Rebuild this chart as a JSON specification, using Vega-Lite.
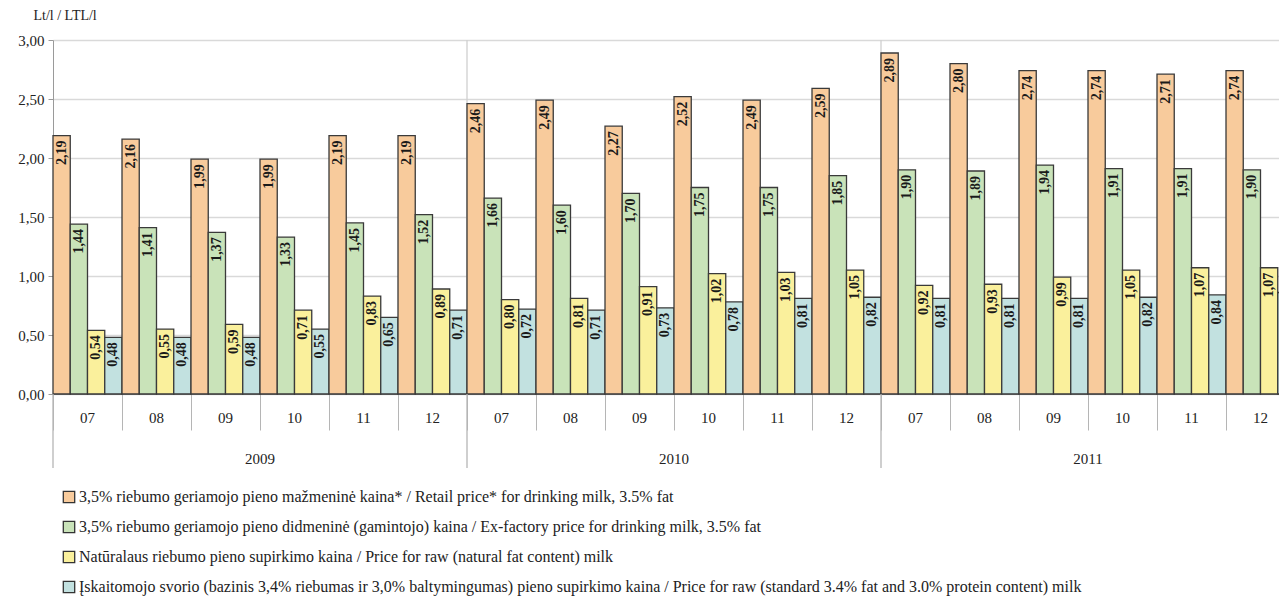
{
  "$schema": "https://vega.github.io/schema/vega-lite/v6.json",
  "width": 1226,
  "height": 354,
  "autosize": {"type": "none"},
  "padding": {"left": 53, "top": 40, "right": 0, "bottom": 209},
  "background": "white",
  "config": {
    "locale": {"number": {"decimal": ",", "thousands": " ", "grouping": [3], "currency": ["", ""]}},
    "font": "Liberation Serif",
    "view": {"stroke": null},
    "axis": {"labelFont": "Liberation Serif", "titleFont": "Liberation Serif", "labelColor": "#222", "titleColor": "#222"},
    "legend": {"labelFont": "Liberation Serif", "titleFont": "Liberation Serif"}
  },
  "data": {"values": [
    {"p":"2009-07","yr":"2009","m":"07","s":"3,5% riebumo geriamojo pieno mažmeninė kaina* / Retail price* for drinking milk, 3.5% fat","v":2.19},
    {"p":"2009-07","yr":"2009","m":"07","s":"3,5% riebumo geriamojo pieno didmeninė (gamintojo) kaina / Ex-factory price for drinking milk, 3.5% fat","v":1.44},
    {"p":"2009-07","yr":"2009","m":"07","s":"Natūralaus riebumo pieno supirkimo kaina / Price for raw (natural fat content) milk","v":0.54},
    {"p":"2009-07","yr":"2009","m":"07","s":"Įskaitomojo svorio (bazinis 3,4% riebumas ir 3,0% baltymingumas) pieno supirkimo kaina / Price for raw (standard 3.4% fat and 3.0% protein content) milk","v":0.48},
    {"p":"2009-08","yr":"2009","m":"08","s":"3,5% riebumo geriamojo pieno mažmeninė kaina* / Retail price* for drinking milk, 3.5% fat","v":2.16},
    {"p":"2009-08","yr":"2009","m":"08","s":"3,5% riebumo geriamojo pieno didmeninė (gamintojo) kaina / Ex-factory price for drinking milk, 3.5% fat","v":1.41},
    {"p":"2009-08","yr":"2009","m":"08","s":"Natūralaus riebumo pieno supirkimo kaina / Price for raw (natural fat content) milk","v":0.55},
    {"p":"2009-08","yr":"2009","m":"08","s":"Įskaitomojo svorio (bazinis 3,4% riebumas ir 3,0% baltymingumas) pieno supirkimo kaina / Price for raw (standard 3.4% fat and 3.0% protein content) milk","v":0.48},
    {"p":"2009-09","yr":"2009","m":"09","s":"3,5% riebumo geriamojo pieno mažmeninė kaina* / Retail price* for drinking milk, 3.5% fat","v":1.99},
    {"p":"2009-09","yr":"2009","m":"09","s":"3,5% riebumo geriamojo pieno didmeninė (gamintojo) kaina / Ex-factory price for drinking milk, 3.5% fat","v":1.37},
    {"p":"2009-09","yr":"2009","m":"09","s":"Natūralaus riebumo pieno supirkimo kaina / Price for raw (natural fat content) milk","v":0.59},
    {"p":"2009-09","yr":"2009","m":"09","s":"Įskaitomojo svorio (bazinis 3,4% riebumas ir 3,0% baltymingumas) pieno supirkimo kaina / Price for raw (standard 3.4% fat and 3.0% protein content) milk","v":0.48},
    {"p":"2009-10","yr":"2009","m":"10","s":"3,5% riebumo geriamojo pieno mažmeninė kaina* / Retail price* for drinking milk, 3.5% fat","v":1.99},
    {"p":"2009-10","yr":"2009","m":"10","s":"3,5% riebumo geriamojo pieno didmeninė (gamintojo) kaina / Ex-factory price for drinking milk, 3.5% fat","v":1.33},
    {"p":"2009-10","yr":"2009","m":"10","s":"Natūralaus riebumo pieno supirkimo kaina / Price for raw (natural fat content) milk","v":0.71},
    {"p":"2009-10","yr":"2009","m":"10","s":"Įskaitomojo svorio (bazinis 3,4% riebumas ir 3,0% baltymingumas) pieno supirkimo kaina / Price for raw (standard 3.4% fat and 3.0% protein content) milk","v":0.55},
    {"p":"2009-11","yr":"2009","m":"11","s":"3,5% riebumo geriamojo pieno mažmeninė kaina* / Retail price* for drinking milk, 3.5% fat","v":2.19},
    {"p":"2009-11","yr":"2009","m":"11","s":"3,5% riebumo geriamojo pieno didmeninė (gamintojo) kaina / Ex-factory price for drinking milk, 3.5% fat","v":1.45},
    {"p":"2009-11","yr":"2009","m":"11","s":"Natūralaus riebumo pieno supirkimo kaina / Price for raw (natural fat content) milk","v":0.83},
    {"p":"2009-11","yr":"2009","m":"11","s":"Įskaitomojo svorio (bazinis 3,4% riebumas ir 3,0% baltymingumas) pieno supirkimo kaina / Price for raw (standard 3.4% fat and 3.0% protein content) milk","v":0.65},
    {"p":"2009-12","yr":"2009","m":"12","s":"3,5% riebumo geriamojo pieno mažmeninė kaina* / Retail price* for drinking milk, 3.5% fat","v":2.19},
    {"p":"2009-12","yr":"2009","m":"12","s":"3,5% riebumo geriamojo pieno didmeninė (gamintojo) kaina / Ex-factory price for drinking milk, 3.5% fat","v":1.52},
    {"p":"2009-12","yr":"2009","m":"12","s":"Natūralaus riebumo pieno supirkimo kaina / Price for raw (natural fat content) milk","v":0.89},
    {"p":"2009-12","yr":"2009","m":"12","s":"Įskaitomojo svorio (bazinis 3,4% riebumas ir 3,0% baltymingumas) pieno supirkimo kaina / Price for raw (standard 3.4% fat and 3.0% protein content) milk","v":0.71},
    {"p":"2010-07","yr":"2010","m":"07","s":"3,5% riebumo geriamojo pieno mažmeninė kaina* / Retail price* for drinking milk, 3.5% fat","v":2.46},
    {"p":"2010-07","yr":"2010","m":"07","s":"3,5% riebumo geriamojo pieno didmeninė (gamintojo) kaina / Ex-factory price for drinking milk, 3.5% fat","v":1.66},
    {"p":"2010-07","yr":"2010","m":"07","s":"Natūralaus riebumo pieno supirkimo kaina / Price for raw (natural fat content) milk","v":0.80},
    {"p":"2010-07","yr":"2010","m":"07","s":"Įskaitomojo svorio (bazinis 3,4% riebumas ir 3,0% baltymingumas) pieno supirkimo kaina / Price for raw (standard 3.4% fat and 3.0% protein content) milk","v":0.72},
    {"p":"2010-08","yr":"2010","m":"08","s":"3,5% riebumo geriamojo pieno mažmeninė kaina* / Retail price* for drinking milk, 3.5% fat","v":2.49},
    {"p":"2010-08","yr":"2010","m":"08","s":"3,5% riebumo geriamojo pieno didmeninė (gamintojo) kaina / Ex-factory price for drinking milk, 3.5% fat","v":1.60},
    {"p":"2010-08","yr":"2010","m":"08","s":"Natūralaus riebumo pieno supirkimo kaina / Price for raw (natural fat content) milk","v":0.81},
    {"p":"2010-08","yr":"2010","m":"08","s":"Įskaitomojo svorio (bazinis 3,4% riebumas ir 3,0% baltymingumas) pieno supirkimo kaina / Price for raw (standard 3.4% fat and 3.0% protein content) milk","v":0.71},
    {"p":"2010-09","yr":"2010","m":"09","s":"3,5% riebumo geriamojo pieno mažmeninė kaina* / Retail price* for drinking milk, 3.5% fat","v":2.27},
    {"p":"2010-09","yr":"2010","m":"09","s":"3,5% riebumo geriamojo pieno didmeninė (gamintojo) kaina / Ex-factory price for drinking milk, 3.5% fat","v":1.70},
    {"p":"2010-09","yr":"2010","m":"09","s":"Natūralaus riebumo pieno supirkimo kaina / Price for raw (natural fat content) milk","v":0.91},
    {"p":"2010-09","yr":"2010","m":"09","s":"Įskaitomojo svorio (bazinis 3,4% riebumas ir 3,0% baltymingumas) pieno supirkimo kaina / Price for raw (standard 3.4% fat and 3.0% protein content) milk","v":0.73},
    {"p":"2010-10","yr":"2010","m":"10","s":"3,5% riebumo geriamojo pieno mažmeninė kaina* / Retail price* for drinking milk, 3.5% fat","v":2.52},
    {"p":"2010-10","yr":"2010","m":"10","s":"3,5% riebumo geriamojo pieno didmeninė (gamintojo) kaina / Ex-factory price for drinking milk, 3.5% fat","v":1.75},
    {"p":"2010-10","yr":"2010","m":"10","s":"Natūralaus riebumo pieno supirkimo kaina / Price for raw (natural fat content) milk","v":1.02},
    {"p":"2010-10","yr":"2010","m":"10","s":"Įskaitomojo svorio (bazinis 3,4% riebumas ir 3,0% baltymingumas) pieno supirkimo kaina / Price for raw (standard 3.4% fat and 3.0% protein content) milk","v":0.78},
    {"p":"2010-11","yr":"2010","m":"11","s":"3,5% riebumo geriamojo pieno mažmeninė kaina* / Retail price* for drinking milk, 3.5% fat","v":2.49},
    {"p":"2010-11","yr":"2010","m":"11","s":"3,5% riebumo geriamojo pieno didmeninė (gamintojo) kaina / Ex-factory price for drinking milk, 3.5% fat","v":1.75},
    {"p":"2010-11","yr":"2010","m":"11","s":"Natūralaus riebumo pieno supirkimo kaina / Price for raw (natural fat content) milk","v":1.03},
    {"p":"2010-11","yr":"2010","m":"11","s":"Įskaitomojo svorio (bazinis 3,4% riebumas ir 3,0% baltymingumas) pieno supirkimo kaina / Price for raw (standard 3.4% fat and 3.0% protein content) milk","v":0.81},
    {"p":"2010-12","yr":"2010","m":"12","s":"3,5% riebumo geriamojo pieno mažmeninė kaina* / Retail price* for drinking milk, 3.5% fat","v":2.59},
    {"p":"2010-12","yr":"2010","m":"12","s":"3,5% riebumo geriamojo pieno didmeninė (gamintojo) kaina / Ex-factory price for drinking milk, 3.5% fat","v":1.85},
    {"p":"2010-12","yr":"2010","m":"12","s":"Natūralaus riebumo pieno supirkimo kaina / Price for raw (natural fat content) milk","v":1.05},
    {"p":"2010-12","yr":"2010","m":"12","s":"Įskaitomojo svorio (bazinis 3,4% riebumas ir 3,0% baltymingumas) pieno supirkimo kaina / Price for raw (standard 3.4% fat and 3.0% protein content) milk","v":0.82},
    {"p":"2011-07","yr":"2011","m":"07","s":"3,5% riebumo geriamojo pieno mažmeninė kaina* / Retail price* for drinking milk, 3.5% fat","v":2.89},
    {"p":"2011-07","yr":"2011","m":"07","s":"3,5% riebumo geriamojo pieno didmeninė (gamintojo) kaina / Ex-factory price for drinking milk, 3.5% fat","v":1.90},
    {"p":"2011-07","yr":"2011","m":"07","s":"Natūralaus riebumo pieno supirkimo kaina / Price for raw (natural fat content) milk","v":0.92},
    {"p":"2011-07","yr":"2011","m":"07","s":"Įskaitomojo svorio (bazinis 3,4% riebumas ir 3,0% baltymingumas) pieno supirkimo kaina / Price for raw (standard 3.4% fat and 3.0% protein content) milk","v":0.81},
    {"p":"2011-08","yr":"2011","m":"08","s":"3,5% riebumo geriamojo pieno mažmeninė kaina* / Retail price* for drinking milk, 3.5% fat","v":2.80},
    {"p":"2011-08","yr":"2011","m":"08","s":"3,5% riebumo geriamojo pieno didmeninė (gamintojo) kaina / Ex-factory price for drinking milk, 3.5% fat","v":1.89},
    {"p":"2011-08","yr":"2011","m":"08","s":"Natūralaus riebumo pieno supirkimo kaina / Price for raw (natural fat content) milk","v":0.93},
    {"p":"2011-08","yr":"2011","m":"08","s":"Įskaitomojo svorio (bazinis 3,4% riebumas ir 3,0% baltymingumas) pieno supirkimo kaina / Price for raw (standard 3.4% fat and 3.0% protein content) milk","v":0.81},
    {"p":"2011-09","yr":"2011","m":"09","s":"3,5% riebumo geriamojo pieno mažmeninė kaina* / Retail price* for drinking milk, 3.5% fat","v":2.74},
    {"p":"2011-09","yr":"2011","m":"09","s":"3,5% riebumo geriamojo pieno didmeninė (gamintojo) kaina / Ex-factory price for drinking milk, 3.5% fat","v":1.94},
    {"p":"2011-09","yr":"2011","m":"09","s":"Natūralaus riebumo pieno supirkimo kaina / Price for raw (natural fat content) milk","v":0.99},
    {"p":"2011-09","yr":"2011","m":"09","s":"Įskaitomojo svorio (bazinis 3,4% riebumas ir 3,0% baltymingumas) pieno supirkimo kaina / Price for raw (standard 3.4% fat and 3.0% protein content) milk","v":0.81},
    {"p":"2011-10","yr":"2011","m":"10","s":"3,5% riebumo geriamojo pieno mažmeninė kaina* / Retail price* for drinking milk, 3.5% fat","v":2.74},
    {"p":"2011-10","yr":"2011","m":"10","s":"3,5% riebumo geriamojo pieno didmeninė (gamintojo) kaina / Ex-factory price for drinking milk, 3.5% fat","v":1.91},
    {"p":"2011-10","yr":"2011","m":"10","s":"Natūralaus riebumo pieno supirkimo kaina / Price for raw (natural fat content) milk","v":1.05},
    {"p":"2011-10","yr":"2011","m":"10","s":"Įskaitomojo svorio (bazinis 3,4% riebumas ir 3,0% baltymingumas) pieno supirkimo kaina / Price for raw (standard 3.4% fat and 3.0% protein content) milk","v":0.82},
    {"p":"2011-11","yr":"2011","m":"11","s":"3,5% riebumo geriamojo pieno mažmeninė kaina* / Retail price* for drinking milk, 3.5% fat","v":2.71},
    {"p":"2011-11","yr":"2011","m":"11","s":"3,5% riebumo geriamojo pieno didmeninė (gamintojo) kaina / Ex-factory price for drinking milk, 3.5% fat","v":1.91},
    {"p":"2011-11","yr":"2011","m":"11","s":"Natūralaus riebumo pieno supirkimo kaina / Price for raw (natural fat content) milk","v":1.07},
    {"p":"2011-11","yr":"2011","m":"11","s":"Įskaitomojo svorio (bazinis 3,4% riebumas ir 3,0% baltymingumas) pieno supirkimo kaina / Price for raw (standard 3.4% fat and 3.0% protein content) milk","v":0.84},
    {"p":"2011-12","yr":"2011","m":"12","s":"3,5% riebumo geriamojo pieno mažmeninė kaina* / Retail price* for drinking milk, 3.5% fat","v":2.74},
    {"p":"2011-12","yr":"2011","m":"12","s":"3,5% riebumo geriamojo pieno didmeninė (gamintojo) kaina / Ex-factory price for drinking milk, 3.5% fat","v":1.90},
    {"p":"2011-12","yr":"2011","m":"12","s":"Natūralaus riebumo pieno supirkimo kaina / Price for raw (natural fat content) milk","v":1.07},
    {"p":"2011-12","yr":"2011","m":"12","s":"Įskaitomojo svorio (bazinis 3,4% riebumas ir 3,0% baltymingumas) pieno supirkimo kaina / Price for raw (standard 3.4% fat and 3.0% protein content) milk","v":0.86}
  ]},
  "encoding": {
    "x": {
      "field": "p", "type": "ordinal",
      "scale": {"type": "band", "range": [0, 1242], "paddingInner": 0, "paddingOuter": 0},
      "axis": {
        "title": null, "labels": false, "bandPosition": 0, "tickSize": 36,
        "domainColor": "#9a9a9a", "tickColor": "#b5b5b5", "grid": false
      }
    }
  },
  "layer": [
    {
      "transform": [{"filter": "datum.m == '07' && datum.yr != '2009' && indexof(datum.s, 'Retail') >= 0"}],
      "mark": {"type": "rule", "color": "#d0d0d0", "strokeWidth": 1.3},
      "encoding": {
        "x": {"field": "p", "type": "ordinal", "bandPosition": 0},
        "y": {"datum": 0, "type": "quantitative"},
        "y2": {"datum": 3}
      }
    },
    {
      "mark": {"type": "bar", "stroke": "#3a3a3a", "strokeWidth": 1.3},
      "encoding": {
        "xOffset": {
          "field": "s", "type": "nominal",
          "sort": [
            "3,5% riebumo geriamojo pieno mažmeninė kaina* / Retail price* for drinking milk, 3.5% fat",
            "3,5% riebumo geriamojo pieno didmeninė (gamintojo) kaina / Ex-factory price for drinking milk, 3.5% fat",
            "Natūralaus riebumo pieno supirkimo kaina / Price for raw (natural fat content) milk",
            "Įskaitomojo svorio (bazinis 3,4% riebumas ir 3,0% baltymingumas) pieno supirkimo kaina / Price for raw (standard 3.4% fat and 3.0% protein content) milk"
          ],
          "scale": {"paddingInner": 0, "paddingOuter": 0}
        },
        "y": {
          "field": "v", "type": "quantitative",
          "scale": {"domain": [0, 3]},
          "axis": {
            "title": "Lt/l / LTL/l", "titleAngle": 0, "titleAlign": "left", "titleBaseline": "middle",
            "titleX": -20, "titleY": -25, "titleFontWeight": "normal", "titleFontSize": 14,
            "values": [0, 0.5, 1, 1.5, 2, 2.5, 3], "format": ".2f",
            "labelFontSize": 15, "labelPadding": 4, "tickSize": 5,
            "domainColor": "#9a9a9a", "tickColor": "#9a9a9a",
            "grid": true, "gridColor": "#d9d9d9", "gridWidth": 1.3
          }
        },
        "color": {
          "field": "s", "type": "nominal",
          "scale": {
            "domain": [
              "3,5% riebumo geriamojo pieno mažmeninė kaina* / Retail price* for drinking milk, 3.5% fat",
              "3,5% riebumo geriamojo pieno didmeninė (gamintojo) kaina / Ex-factory price for drinking milk, 3.5% fat",
              "Natūralaus riebumo pieno supirkimo kaina / Price for raw (natural fat content) milk",
              "Įskaitomojo svorio (bazinis 3,4% riebumas ir 3,0% baltymingumas) pieno supirkimo kaina / Price for raw (standard 3.4% fat and 3.0% protein content) milk"
            ],
            "range": ["#F8CB9C", "#C9E3B9", "#FAF09C", "#C2E1E0"]
          },
          "legend": {
            "orient": "none", "legendX": 8, "legendY": 449, "direction": "vertical", "title": null,
            "labelFont": "Liberation Serif", "labelFontSize": 16, "labelColor": "#222", "labelLimit": 1200,
            "symbolType": "square", "symbolSize": 130, "symbolStrokeColor": "#333", "symbolStrokeWidth": 1.3,
            "symbolOpacity": 1, "rowPadding": 12, "labelOffset": 2
          }
        }
      }
    },
    {
      "mark": {"type": "text", "angle": 270, "align": "right", "baseline": "middle", "dx": -5,
               "fontWeight": "bold", "fontSize": 14, "font": "Liberation Serif", "color": "#1a1a1a"},
      "encoding": {
        "xOffset": {
          "field": "s", "type": "nominal",
          "sort": [
            "3,5% riebumo geriamojo pieno mažmeninė kaina* / Retail price* for drinking milk, 3.5% fat",
            "3,5% riebumo geriamojo pieno didmeninė (gamintojo) kaina / Ex-factory price for drinking milk, 3.5% fat",
            "Natūralaus riebumo pieno supirkimo kaina / Price for raw (natural fat content) milk",
            "Įskaitomojo svorio (bazinis 3,4% riebumas ir 3,0% baltymingumas) pieno supirkimo kaina / Price for raw (standard 3.4% fat and 3.0% protein content) milk"
          ]
        },
        "y": {"field": "v", "type": "quantitative"},
        "text": {"field": "v", "type": "quantitative", "format": ".2f"}
      }
    },
    {
      "transform": [{"filter": "datum.m == '07' && indexof(datum.s, 'Retail') >= 0"}],
      "mark": {"type": "rule", "color": "#b5b5b5", "strokeWidth": 1.3},
      "encoding": {
        "x": {"field": "p", "type": "ordinal", "bandPosition": 0},
        "y": {"datum": 0, "type": "quantitative"},
        "y2": {"datum": -0.627}
      }
    },
    {
      "transform": [{"filter": "indexof(datum.s, 'Retail') >= 0"}],
      "mark": {"type": "text", "font": "Liberation Serif", "fontSize": 15, "color": "#222", "baseline": "middle", "align": "center"},
      "encoding": {
        "y": {"datum": -0.2, "type": "quantitative"},
        "text": {"field": "m"}
      }
    },
    {
      "transform": [{"filter": "datum.m == '09' && indexof(datum.s, 'Retail') >= 0"}],
      "mark": {"type": "text", "font": "Liberation Serif", "fontSize": 15, "color": "#222", "baseline": "middle", "align": "center"},
      "encoding": {
        "x": {"field": "p", "type": "ordinal", "bandPosition": 1},
        "y": {"datum": -0.55, "type": "quantitative"},
        "text": {"field": "yr"}
      }
    }
  ]
}
